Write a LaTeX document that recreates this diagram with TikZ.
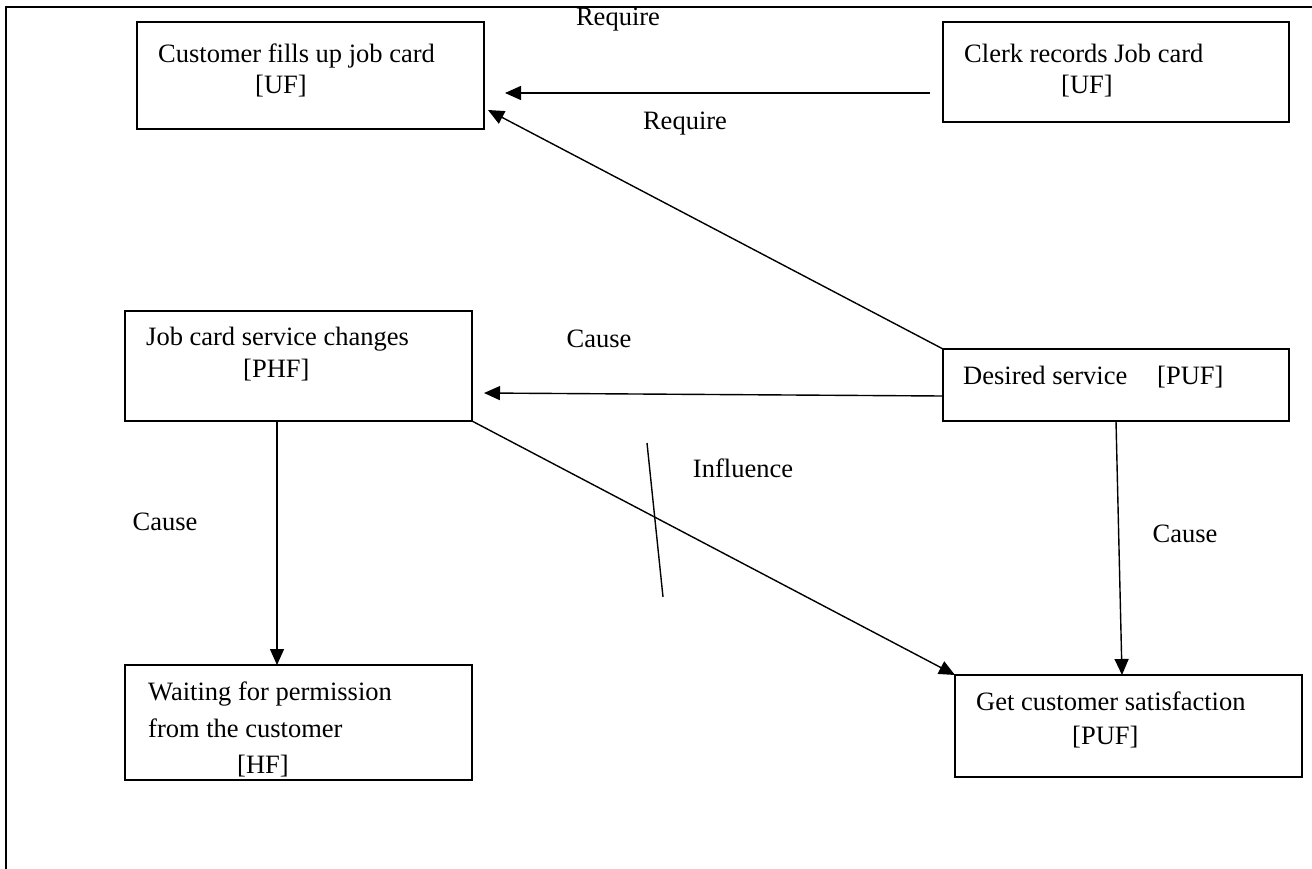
\documentclass[tikz,border=0pt]{standalone}
\usepackage{fontspec}
\setmainfont{Liberation Serif}
\usetikzlibrary{arrows.meta,calc}
\begin{document}
\begin{tikzpicture}[x=1pt,y=-1pt,
  box/.style={draw,line width=1.4pt,inner sep=0pt,outer sep=0pt,anchor=north west},
  txt/.style={anchor=base west,inner sep=0pt,font=\fontsize{26.5}{31}\selectfont},
  lbl/.style={anchor=base,inner sep=0pt,font=\fontsize{26.5}{31}\selectfont},
  conn/.style={line width=1.4pt},
  arr/.style={line width=1.4pt,-{Triangle[length=16pt,width=14pt]}}]
\useasboundingbox (0,0) rectangle (1312,868);
% outer frame
\coordinate (fbl) at (6,880);
\coordinate (ftl) at (6,7);
\coordinate (ftr) at (1320,7);
\draw[line width=1.4pt] (fbl) -- (ftl) -- (ftr);
% boxes
\node[box,minimum width=347pt,minimum height=107pt] (b1) at (137,22) {};
\node[box,minimum width=346pt,minimum height=100pt] (b2) at (943,22) {};
\node[box,minimum width=347pt,minimum height=110pt] (b3) at (125,311) {};
\node[box,minimum width=346pt,minimum height=72pt] (b4) at (943,349) {};
\node[box,minimum width=347pt,minimum height=115pt] (b5) at (125,665) {};
\node[box,minimum width=347pt,minimum height=102pt] (b6) at (955,675) {};
% box texts
\node[txt] (t1a) at (158,62) {Customer fills up job card};
\node[txt] (t1b) at (255,93) {[UF]};
\node[txt] (t2a) at (964,62) {Clerk records Job card};
\node[txt] (t2b) at (1061,93) {[UF]};
\node[txt] (t3a) at (146,345) {Job card service changes};
\node[txt] (t3b) at (243,377) {[PHF]};
\node[txt] (t4a) at (963,384) {Desired service};
\node[txt] (t4b) at (1157,384) {[PUF]};
\node[txt] (t5a) at (148,700) {Waiting for permission};
\node[txt] (t5b) at (148,737) {from the customer};
\node[txt] (t5c) at (237,773) {[HF]};
\node[txt] (t6a) at (976,710) {Get customer satisfaction};
\node[txt] (t6b) at (1072,744) {[PUF]};
% connector labels
\node[lbl] (l1) at (618,25) {Require};
\node[lbl] (l2) at (685,129) {Require};
\node[lbl] (l3) at (599,347) {Cause};
\node[lbl] (l4) at (743,477) {Influence};
\node[lbl] (l5) at (165,530) {Cause};
\node[lbl] (l6) at (1185,542) {Cause};
% connectors
\coordinate (r1s) at (930,93);
\coordinate (r1e) at (505,93);
\draw[arr] (r1s) -- (r1e);
\coordinate (r2e) at (488,110);
\draw[arr] (b4.north west) -- (r2e);
\coordinate (c1s) at (943,396);
\coordinate (c1e) at (484,393);
\draw[arr] (c1s) -- (c1e);
\draw[arr] (b3.south east) -- (b6.north west);
\coordinate (h1) at (647,443);
\coordinate (h2) at (663,597);
\draw[conn] (h1) -- (h2);
\coordinate (c2s) at (277,421);
\coordinate (c2e) at (277,665);
\draw[arr] (c2s) -- (c2e);
\coordinate (c3s) at (1116,421);
\coordinate (c3e) at (1122,675);
\draw[arr] (c3s) -- (c3e);
\end{tikzpicture}
\end{document}
